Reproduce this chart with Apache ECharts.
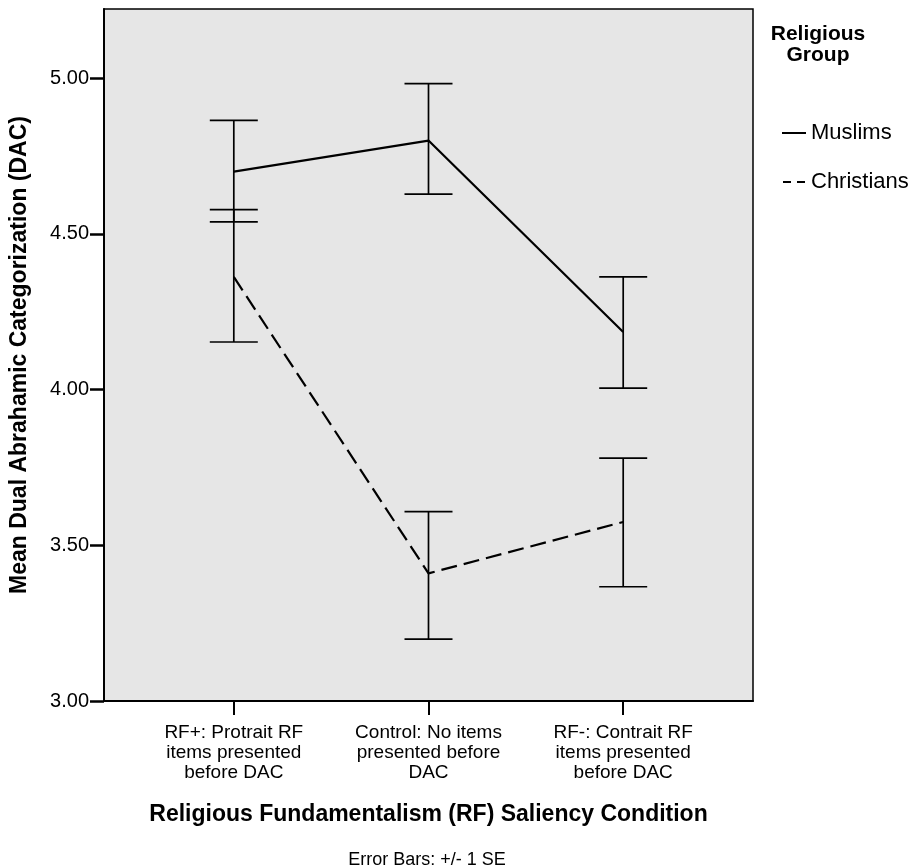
<!DOCTYPE html>
<html>
<head>
<meta charset="utf-8">
<script src="https://cdn.jsdelivr.net/npm/echarts@6/dist/echarts.min.js"></script>
<style>
html,body{margin:0;padding:0;background:#fff;}
#chart{width:918px;height:867px;}
</style>
</head>
<body>
<div id="chart"></div>
<script>
// ---- data ----
var categories = [
  'RF+: Protrait RF\nitems presented\nbefore DAC',
  'Control: No items\npresented before\nDAC',
  'RF-: Contrait RF\nitems presented\nbefore DAC'
];
var seriesNames = ['Muslims', 'Christians'];
var muslimMean  = [4.70, 4.80, 4.185];
var muslimLow   = [4.539, 4.628, 4.005];
var muslimHigh  = [4.865, 4.983, 4.362];
var christianMean = [4.362, 3.41, 3.575];
var christianLow  = [4.153, 3.199, 3.367];
var christianHigh = [4.578, 3.608, 3.780];
var yTicks = [3.0, 3.5, 4.0, 4.5, 5.0];

var FONT = 'Liberation Sans, Arial, sans-serif';

function pts(arr){ return arr.map(function(v,i){ return [i, v]; }); }
function bars(lo, hi){ return lo.map(function(v,i){ return [i, v, hi[i]]; }); }

function errRender(params, api){
  var x = api.value(0);
  var pLo = api.coord([x, api.value(1)]);
  var pHi = api.coord([x, api.value(2)]);
  var hw = 24;
  var st = {stroke:'#000', lineWidth:1.7};
  return {type:'group', children:[
    {type:'line', shape:{x1:pLo[0], y1:pLo[1], x2:pHi[0], y2:pHi[1]}, style:st},
    {type:'line', shape:{x1:pLo[0]-hw, y1:pLo[1], x2:pLo[0]+hw, y2:pLo[1]}, style:st},
    {type:'line', shape:{x1:pHi[0]-hw, y1:pHi[1], x2:pHi[0]+hw, y2:pHi[1]}, style:st}
  ]};
}

var chart = echarts.init(document.getElementById('chart'), null, {renderer:'canvas'});
chart.setOption({
  animation:false,
  backgroundColor:'#fff',
  textStyle:{fontFamily:FONT, color:'#000'},
  grid:{left:103, top:9, right:165, bottom:166, show:true, backgroundColor:'#e6e6e6', borderColor:'#000', borderWidth:1.5, containLabel:false},
  title:{
    text:'Error Bars: +/- 1 SE',
    left:422, top:846, textAlign:'center',
    textStyle:{fontFamily:FONT, fontSize:18, fontWeight:'normal', color:'#000'}
  },
  graphic:[{
    type:'text', x:818, y:24,
    style:{text:'Religious\nGroup', fontFamily:FONT, fontSize:21, fontWeight:'bold', fill:'#000', align:'center', verticalAlign:'top', lineHeight:21}
  }],
  legend:{
    orient:'vertical', left:777, top:117, itemWidth:24, itemHeight:2, itemGap:27,
    textStyle:{fontFamily:FONT, fontSize:22, color:'#000'},
    data:[
      {name:seriesNames[0], icon:'path://M0,0H24V2H0Z'},
      {name:seriesNames[1], icon:'path://M0,0H8V2H0ZM14,0H22V2H14Z'}
    ],
    itemStyle:{color:'#000'}
  },
  xAxis:{
    type:'value', min:-2/3, max:8/3,
    name:'Religious Fundamentalism (RF) Saliency Condition',
    nameLocation:'middle', nameGap:102,
    nameTextStyle:{fontFamily:FONT, fontSize:23, fontWeight:'bold', color:'#000'},
    axisLine:{onZero:false, lineStyle:{color:'#000', width:2}},
    axisTick:{customValues:[0,1,2], length:14, lineStyle:{color:'#000', width:2}},
    axisLabel:{customValues:[0,1,2], margin:22, fontFamily:FONT, fontSize:19, color:'#000', lineHeight:20,
      formatter:function(v){ return categories[Math.round(v)]; }},
    splitLine:{show:false}
  },
  yAxis:{
    type:'value', min:3, max:5.2226,
    name:'Mean Dual Abrahamic Categorization (DAC)',
    nameLocation:'middle', nameGap:73, nameRotate:90,
    nameTextStyle:{fontFamily:FONT, fontSize:23, fontWeight:'bold', color:'#000'},
    axisLine:{show:true, onZero:false, lineStyle:{color:'#000', width:2}},
    axisTick:{show:true, customValues:yTicks, length:14, lineStyle:{color:'#000', width:2.5}},
    axisLabel:{customValues:yTicks, margin:15, fontFamily:FONT, fontSize:20, color:'#000',
      formatter:function(v){ return v.toFixed(2); }},
    splitLine:{show:false}
  },
  series:[
    {name:seriesNames[0], type:'line', data:pts(muslimMean), symbol:'none', lineStyle:{color:'#000', width:2.2, type:'solid'}, itemStyle:{color:'#000'}, z:3},
    {name:seriesNames[1], type:'line', data:pts(christianMean), symbol:'none', lineStyle:{color:'#000', width:2.2, type:[16,7]}, itemStyle:{color:'#000'}, z:3},
    {type:'custom', renderItem:errRender, data:bars(muslimLow, muslimHigh), encode:{x:0, y:[1,2]}, z:2},
    {type:'custom', renderItem:errRender, data:bars(christianLow, christianHigh), encode:{x:0, y:[1,2]}, z:2}
  ]
});
</script>
</body>
</html>
